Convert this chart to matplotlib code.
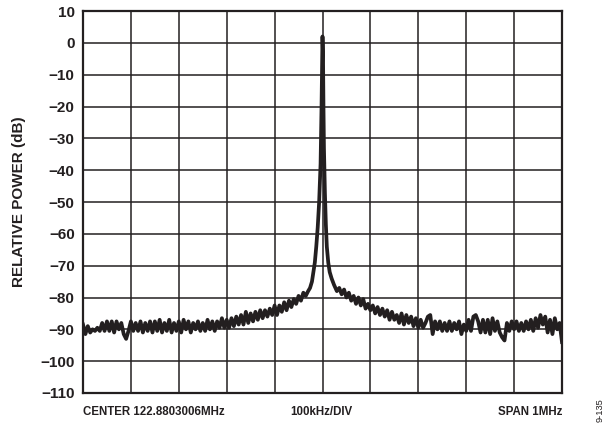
import numpy as np
import matplotlib
matplotlib.use('Agg')
import matplotlib.pyplot as plt

plt.rcParams['font.family'] = ['Liberation Sans', 'DejaVu Sans']

INK = '#231f20'

# offset from centre frequency, kHz (10 divisions of 100 kHz)
left_khz = np.arange(-500, -30, 5)
right_khz = np.arange(35, 505, 5)

# noise floor left of the carrier, dB
left_db = [
    -88.5, -91.5, -89, -91, -90, -90.5, -89.5, -90.5, -88, -90.5,
    -87.5, -90.5, -87.5, -91, -87.5, -90, -88, -91.5, -93, -90.5,
    -87.5, -90.5, -88, -90.5, -87.5, -91, -88, -90.5, -87.5, -91,
    -87.5, -90.5, -87, -91, -88, -90.5, -87, -91, -88, -90.5,
    -87.5, -91, -87, -90, -87.5, -91, -88, -90, -87.5, -90.5,
    -88, -90.5, -87, -90, -87.5, -90.5, -87.5, -89.5, -86.5, -89.5,
    -87, -89.5, -86.5, -89, -86, -88.5, -85.5, -88.5, -84.5, -88,
    -85, -87.5, -84.5, -87, -84, -86.5, -84, -86, -83.5, -85.5,
    -82.5, -85.5, -82.5, -84.5, -81.5, -84, -81, -83, -80.5, -82,
    -79.5, -81, -78.5, -79.5,
]

# carrier skirt
peak_khz = [-30, -26, -22, -19, -16, -13, -10, -7, -4, -2, -1, 0,
            1, 2, 3, 5, 7, 9, 12, 15, 19, 24, 30]
peak_db = [-78, -77, -75, -72, -69, -64, -58, -50, -38, -20, -8, 2,
           -3, -20, -33, -47, -57, -64, -69, -72, -74, -76, -78]

# noise floor right of the carrier, dB
right_db = [
    -77, -79, -77.5, -80, -78.5, -81, -79.5, -82, -80, -82.5,
    -80.5, -83.5, -82, -84, -82.5, -85, -83, -85.5, -83.5, -86,
    -84, -87, -84.5, -87, -85.5, -88, -85, -88.5, -85.5, -88,
    -86, -89, -86.5, -89.5, -87, -89.5, -88, -86, -85.5, -91.5,
    -87.5, -90, -87.5, -90.5, -88, -90.5, -87.5, -90.5, -88, -90,
    -87.5, -91.5, -88.5, -90.5, -87, -90.5, -86, -85.5, -87.5, -91,
    -87, -91, -87, -91.5, -86.5, -90.5, -87.5, -91, -92.5, -93.5,
    -88, -90.5, -87.5, -90, -87.5, -90.5, -88, -90.5, -87.5, -90,
    -87, -90.5, -86.5, -89.5, -85.5, -88.5, -86, -91, -87, -91.5,
    -86.5, -90, -88, -94,
]

freq = np.concatenate([left_khz, peak_khz, right_khz])
power = np.concatenate([left_db, peak_db, right_db])

fig = plt.figure(figsize=(6.08, 4.25), dpi=100)
ax = fig.add_axes([83 / 608, 1 - 393 / 425, 479 / 608, 382 / 425])

ax.plot(freq, power, color=INK, lw=2.7, solid_joinstyle='round', zorder=3)

ax.set_xlim(-500, 500)
ax.set_ylim(-110, 10)
ax.set_xticks(np.arange(-500, 501, 100))
ax.set_yticks(np.arange(-110, 11, 10))
ax.set_xticklabels([])
ax.set_yticklabels(['\u2212%d' % -v if v < 0 else '%d' % v
                    for v in range(-110, 11, 10)])
ax.grid(True, color=INK, lw=1.1)
ax.tick_params(length=0, pad=6, labelsize=11, labelcolor=INK)
for lab in ax.get_yticklabels():
    lab.set_fontweight('bold')
for s in ax.spines.values():
    s.set_linewidth(1.6)
    s.set_color(INK)

ax.set_ylabel('RELATIVE POWER (dB)', fontsize=11, fontweight='bold',
              color=INK)
ax.yaxis.set_label_coords(-57 / 479, 0.5)

fig.text(83 / 608, 1 - 412 / 425, 'CENTER 122.8803006MHz', fontsize=8.3,
         fontweight='bold', color=INK, ha='left', va='center')
fig.text(321 / 608, 1 - 412 / 425, '100kHz/DIV', fontsize=8.3,
         fontweight='bold', color=INK, ha='center', va='center')
fig.text(562 / 608, 1 - 412 / 425, 'SPAN 1MHz', fontsize=8.3,
         fontweight='bold', color=INK, ha='right', va='center')
fig.text(600 / 608, 1 - 410 / 425, '9-135', fontsize=6.7, color=INK,
         rotation=90, ha='center', va='center')

fig.savefig('out.png', dpi=100)
